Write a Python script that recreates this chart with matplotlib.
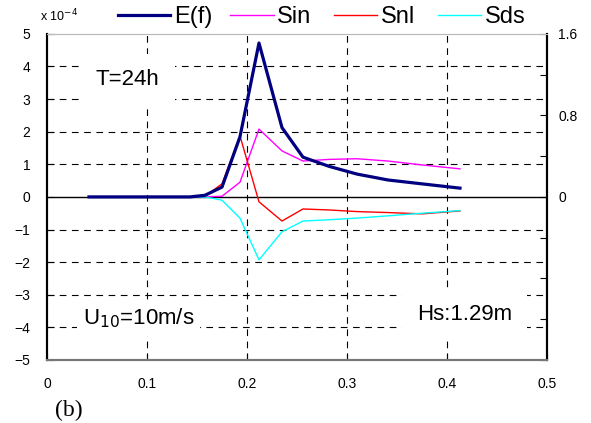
import numpy as np
import matplotlib
matplotlib.use("Agg")
import matplotlib.pyplot as plt

plt.rcParams['font.family'] = ['Liberation Sans', 'DejaVu Sans']

# frequency (Hz)
freq = [0.042, 0.143, 0.158, 0.175, 0.193, 0.212, 0.235, 0.256, 0.282, 0.310, 0.341, 0.375, 0.413]
# source terms (x 1e-4, left axis)
s_in = [0, 0, 0, 0.02, 0.45, 2.08, 1.41, 1.10, 1.15, 1.17, 1.10, 0.98, 0.86]
s_nl = [0, 0, 0.02, 0.40, 1.87, -0.15, -0.74, -0.37, -0.40, -0.45, -0.48, -0.52, -0.43]
s_ds = [0, 0, 0, -0.10, -0.65, -1.93, -1.07, -0.74, -0.70, -0.65, -0.58, -0.50, -0.42]
# spectrum (right axis)
e_f = [0, 0, 0.016, 0.096, 0.59, 1.51, 0.68, 0.39, 0.30, 0.224, 0.166, 0.128, 0.086]

xticks = [0, 0.1, 0.2, 0.3, 0.4, 0.5]
xticklabels = ['0', '0.1', '0.2', '0.3', '0.4', '0.5']
yticks = [5, 4, 3, 2, 1, 0, -1, -2, -3, -4, -5]
yticklabels = ['5', '4', '3', '2', '1', '0', '\u22121', '\u22122', '\u22123', '\u22124', '\u22125']
rticks = [-1.6, -1.2, -0.8, -0.4, 0, 0.4, 0.8, 1.2, 1.6]
rticklabels = ['', '', '', '', '0', '', '0.8', '', '1.6']

fig = plt.figure(figsize=(5.91, 4.23), dpi=100)
ax = fig.add_axes([0.0795, 0.149, 0.846, 0.771])
ax2 = ax.twinx()

ax.set_xlim(0, 0.5)
ax.set_ylim(-5, 5)
ax2.set_ylim(-1.6, 1.6)

# grid
for x in [0.1, 0.2, 0.3, 0.4]:
    ax.axvline(x, color='black', lw=0.8, ls=(0, (6, 5)), zorder=1)
for y in [4, 3, 2, 1, -1, -2, -3, -4]:
    ax.axhline(y, color='black', lw=0.8, ls=(0, (6, 5)), zorder=1)
ax.axhline(0, color='black', lw=1.0, zorder=1)

l_in, = ax.plot(freq, s_in, color='#ff00ff', lw=1.0, zorder=3)
l_nl, = ax.plot(freq, s_nl, color='#ff0000', lw=1.0, zorder=3)
l_ds, = ax.plot(freq, s_ds, color='#00ffff', lw=1.0, zorder=3)
l_e, = ax2.plot(freq, e_f, color='#000080', lw=2.3, zorder=4)

ax.set_xticks(xticks)
ax.set_xticklabels(xticklabels, fontsize=10)
ax.set_yticks(yticks)
ax.set_yticklabels(yticklabels, fontsize=10)
ax.tick_params(axis='both', direction='in', length=5, pad=12)
ax.tick_params(axis='x', pad=12)

ax2.set_yticks(rticks)
ax2.set_yticklabels(rticklabels, fontsize=10)
ax2.tick_params(axis='y', direction='in', length=5, pad=8)

for a in (ax, ax2):
    a.spines['top'].set_color('#bbbbbb')
    a.spines['left'].set_linewidth(1.5)
    a.spines['right'].set_linewidth(1.5)
    a.spines['bottom'].set_color('#777777')
    a.spines['bottom'].set_linewidth(1.5)

fig.text(0.068, 0.962, r'x 10$^{-4}$', fontsize=9, ha='left', va='center')

leg1 = fig.legend([l_e], ['E(f)'], loc='center left', bbox_to_anchor=(0.2, 0.96),
                  frameon=False, fontsize=17, handlelength=2.2, handletextpad=0.15,
                  borderpad=0, borderaxespad=0)
leg2 = fig.legend([l_in, l_nl, l_ds], ['Sin', 'Snl', 'Sds'], loc='center left',
                  bbox_to_anchor=(0.389, 0.96), ncol=3, frameon=False, fontsize=17,
                  handlelength=1.85, handletextpad=0.15, columnspacing=0.95,
                  borderpad=0, borderaxespad=0)

box = dict(facecolor='white', edgecolor='none', pad=11)
ax.text(0.049, 3.6, 'T=24h', fontsize=16, ha='left', va='center', bbox=box, zorder=2)
ax.text(0.036, -3.72, r'U$_{10}$=10m/s', fontsize=16, ha='left', va='center',
        bbox=dict(facecolor='white', edgecolor='none', pad=4), zorder=2)
ax.text(0.370, -3.6, 'Hs:1.29m', fontsize=16, ha='left', va='center', bbox=box, zorder=2)
fig.text(0.093, 0.03, '(b)', fontsize=17, family='Liberation Serif', ha='left', va='center')

fig.savefig('out.png', dpi=100)
